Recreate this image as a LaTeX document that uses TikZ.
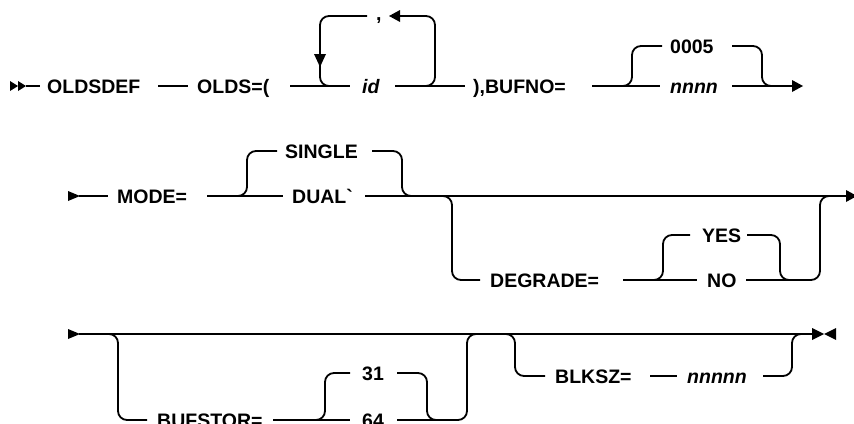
\documentclass[tikz,border=0pt]{standalone}
\usepackage{fontspec}
\setmainfont{Liberation Sans}
\begin{document}
\begin{tikzpicture}[x=1pt,y=-1pt,
  lbl/.style={font=\fontsize{19.5}{19.5}\selectfont\bfseries, inner sep=0pt, anchor=base west},
  var/.style={font=\fontsize{19.5}{19.5}\selectfont\bfseries\itshape, inner sep=0pt, anchor=base west},
  rail/.style={line width=1.8pt, rounded corners=9pt},
  tip/.style={fill=black}]
\useasboundingbox (0,0) rectangle (854,423);

% ---------- Row 1 (line y = 86) ----------
\fill[tip] (10,81) -- (18,86) -- (10,91) -- cycle;
\fill[tip] (18,81) -- (26,86) -- (18,91) -- cycle;
\node[lbl] (oldsdef) at (47,93) {OLDSDEF};
\node[lbl] (olds) at (197,93) {OLDS=(};
\node[var] (id) at (362,93) {id};
\node[lbl] (comma) at (376,20) {,};
\node[lbl] (bufno) at (473,93) {),BUFNO=};
\node[lbl] (d0005) at (670,53) {0005};
\node[var] (nnnn) at (670,93) {nnnn};

\draw[rail] (26,86) -- (40,86);
\draw[rail] (158,86) -- (188,86);
\draw[rail] (290,86) -- (350,86);
\draw[rail] (345,86) -- (320,86) -- (320,16) -- (367,16);
\draw[rail] (398,16) -- (435,16) -- (435,86) -- (410,86);
\fill[tip] (400,10) -- (389,16) -- (400,22) -- cycle;
\fill[tip] (314,54) -- (320,67) -- (326,54) -- cycle;
\draw[rail] (395,86) -- (465,86);

\draw[rail] (592,86) -- (660,86);
\draw[rail] (622,86) -- (632,86) -- (632,46) -- (662,46);
\draw[rail] (732,46) -- (762,46) -- (762,86) -- (772,86);
\draw[rail] (732,86) -- (793,86);
\fill[tip] (792,80) -- (803,86) -- (792,92) -- cycle;

% ---------- Row 2 (line y = 196) ----------
\fill[tip] (68,191) -- (80,196) -- (68,201) -- cycle;
\draw[rail] (79,196) -- (108,196);
\node[lbl] (mode) at (117,203) {MODE=};
\draw[rail] (207,196) -- (283,196);
\draw[rail] (237,196) -- (247,196) -- (247,151) -- (277,151);
\node[lbl] (single) at (285,158) {SINGLE};
\draw[rail] (372,151) -- (402,151) -- (402,196) -- (412,196);
\node[lbl] (dual) at (292,203) {DUAL\textasciigrave};
\draw[rail] (365,196) -- (847,196);
\fill[tip] (846,190) -- (857,196) -- (846,202) -- cycle;

\draw[rail] (443,196) -- (452,196) -- (452,280) -- (480,280);
\node[lbl] (degrade) at (490,287) {DEGRADE=};
\draw[rail] (623,280) -- (697,280);
\draw[rail] (653,280) -- (663,280) -- (663,235) -- (690,235);
\node[lbl] (yes) at (702,242) {YES};
\draw[rail] (747,235) -- (780,235) -- (780,280) -- (790,280);
\node[lbl] (no) at (707,287) {NO};
\draw[rail] (746,280) -- (820,280) -- (820,196) -- (830,196);

% ---------- Row 3 (line y = 334) ----------
\fill[tip] (68,329) -- (80,334) -- (68,339) -- cycle;
\draw[rail] (79,334) -- (813,334);
\fill[tip] (812,328) -- (824,334) -- (812,340) -- cycle;
\fill[tip] (836,328) -- (824,334) -- (836,340) -- cycle;

\draw[rail] (108,334) -- (118,334) -- (118,420) -- (147,420);
\node[lbl] (bufstor) at (157,427) {BUFSTOR=};
\draw[rail] (273,420) -- (350,420);
\draw[rail] (315,420) -- (325,420) -- (325,373) -- (350,373);
\node[lbl] (d31) at (362,380) {31};
\node[lbl] (d64) at (362,427) {64};
\draw[rail] (397,373) -- (427,373) -- (427,420) -- (437,420);
\draw[rail] (397,420) -- (467,420) -- (467,334) -- (477,334);

\draw[rail] (505,334) -- (515,334) -- (515,376) -- (545,376);
\node[lbl] (blksz) at (555,383) {BLKSZ=};
\draw[rail] (650,376) -- (677,376);
\node[var] (nnnnn) at (687,383) {nnnnn};
\draw[rail] (763,376) -- (792,376) -- (792,334) -- (802,334);
\end{tikzpicture}
\end{document}
